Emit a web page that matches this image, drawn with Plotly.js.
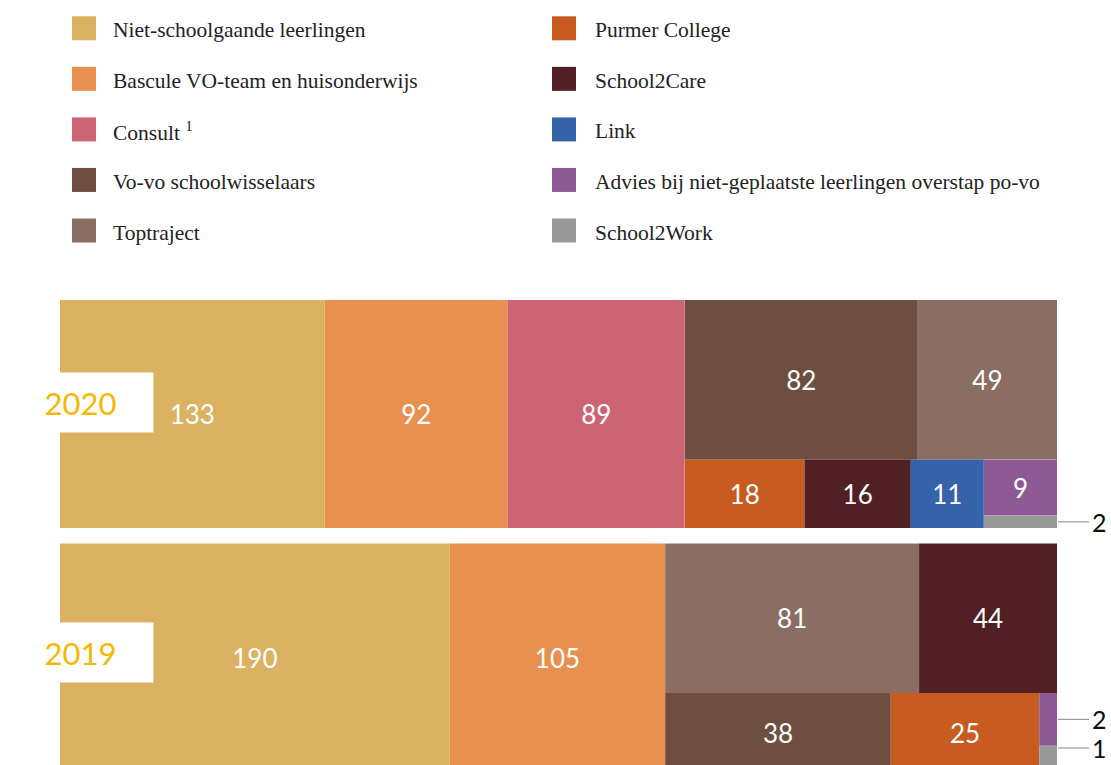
<!DOCTYPE html>
<html><head><meta charset="utf-8">
<script src="https://cdn.plot.ly/plotly-3.0.1.min.js"></script>
<style>html,body{margin:0;padding:0;overflow:hidden;background:#fff}#chart{width:1111px;height:772px}</style>
</head><body><div id="chart"></div>
<script>
// ---- data ----
const categories = ['Niet-schoolgaande leerlingen','Bascule VO-team en huisonderwijs','Consult','Vo-vo schoolwisselaars','Toptraject','Purmer College','School2Care','Link','Advies bij niet-geplaatste leerlingen overstap po-vo','School2Work'];
const legendLabels = ['Niet-schoolgaande leerlingen','Bascule VO-team en huisonderwijs','Consult <sup>1</sup>','Vo-vo schoolwisselaars','Toptraject','Purmer College','School2Care','Link','Advies bij niet-geplaatste leerlingen overstap po-vo','School2Work'];
const years = ['2020','2019'];
const values2020 = [133, 92, 89, 82, 49, 18, 16, 11, 9, 2];
const values2019 = [190, 105, 0, 38, 81, 25, 44, 0, 2, 1];
// tile arrangement (category indices, nested groups)
const tiling2020 = [0, 1, 2, [[3, 4], [5, 6, 7, [8, 9]]]];
const tiling2019 = [0, 1, [[4, 6], [3, 5, [8, 9]]]];
const colors = ['#DBB262','#E8904F','#CD6474','#6D4E40','#8A6E63','#C85B20','#502024','#3662AA','#8E5A96','#999999'];

// ---- layout helpers ----
const W = 1111, H = 772, M = {l:60, r:54, t:300, b:0};
const plotW = W - M.l - M.r, plotH = H - M.t - M.b;
const px2x = p => (p - M.l) / plotW;
const px2y = p => (H - M.b - p) / plotH;
const blocks = [{top:300, bottom:528, label:0.45}, {top:543.5, bottom:772, label:0.475}];

function sumNode(node, vals){ return Array.isArray(node) ? node.reduce((s,c)=>s+sumNode(c,vals),0) : vals[node]; }

function sliceDice(node, vals, x0, y0, x1, y1, depth, out){
  if(!Array.isArray(node)){ out[node] = {x0,y0,x1,y1}; return; }
  const total = sumNode(node, vals);
  let pos = depth % 2 === 0 ? x0 : y0;
  node.forEach(c => {
    const k = total ? sumNode(c, vals) / total : 0;
    if(depth % 2 === 0){ const w = (x1-x0)*k; sliceDice(c, vals, pos, y0, pos+w, y1, depth+1, out); pos += w; }
    else { const h = (y1-y0)*k; sliceDice(c, vals, x0, pos, x1, pos+h, depth+1, out); pos += h; }
  });
}

function buildTrace(year, vals, tiling, domainY){
  const ids=[], labels=[], parents=[], values=[], text=[], mcolors=[];
  ids.push(year); labels.push(year); parents.push(''); values.push(0); text.push(''); mcolors.push('#ffffff');
  let g = 0;
  function walk(node, parentId){
    if(Array.isArray(node)){
      const id = year + '-g' + (g++);
      ids.push(id); labels.push(' '); parents.push(parentId); values.push(0); text.push(''); mcolors.push('#ffffff');
      node.forEach(c => walk(c, id));
    } else {
      ids.push(year + '-' + node); labels.push(categories[node]); parents.push(parentId);
      values.push(vals[node]); text.push(vals[node] >= 5 ? String(vals[node]) : '');
      mcolors.push(colors[node]);
    }
  }
  tiling.forEach(c => walk(c, year));
  return {
    type:'treemap', ids, labels, parents, values, text,
    branchvalues:'remainder', sort:false,
    textinfo:'text', textposition:'middle center',
    textfont:{family:'Lato', size:26, color:'#ffffff'},
    insidetextfont:{family:'Lato', size:26, color:'#ffffff'},
    marker:{colors:mcolors, line:{width:0}, pad:{t:0,l:0,r:0,b:0}, depthfade:false},
    tiling:{packing:'slice-dice', pad:0},
    pathbar:{visible:false}, leaf:{opacity:1},
    root:{color:'#ffffff'},
    domain:{x:[0,1], y:domainY},
    hoverinfo:'label+value'
  };
}

const allVals = [values2020, values2019];
const allTiling = [tiling2020, tiling2019];
const data = years.map((y,i) => buildTrace(y, allVals[i], allTiling[i], [Math.max(0, px2y(blocks[i].bottom)), Math.min(1, px2y(blocks[i].top))]));

const shapes = [], annotations = [];

// year boxes
years.forEach((y,i) => {
  const b = blocks[i];
  annotations.push({xref:'paper', yref:'paper', x:px2x(80.5), y:px2y(b.top + b.label*(b.bottom-b.top)),
    xanchor:'center', yanchor:'middle', showarrow:false, text:y, bgcolor:'#ffffff', width:145, height:59, borderpad:0,
    font:{family:'Lato', size:31, color:'#F5B800'}});
});

// outside labels for tiny cells
years.forEach((y,i) => {
  const b = blocks[i], rects = {};
  sliceDice(allTiling[i], allVals[i], M.l, b.top, W - M.r, b.bottom, 0, rects);
  Object.keys(rects).forEach(k => {
    const v = allVals[i][k];
    if(v > 0 && v < 5){
      const r = rects[k], cy = Math.min((r.y0 + r.y1)/2, 748);
      shapes.push({type:'line', xref:'paper', yref:'paper', x0:px2x(r.x1+1), x1:px2x(1089), y0:px2y(cy), y1:px2y(cy), line:{color:'#999999', width:1.2}});
      annotations.push({xref:'paper', yref:'paper', x:px2x(1090), y:px2y(cy), xanchor:'left', yanchor:'middle', showarrow:false,
        text:String(v), font:{family:'Lato', size:25, color:'#111111'}});
    }
  });
});

// legend
categories.forEach((c,i) => {
  const col = Math.floor(i/5), row = i % 5;
  const cy = 28.3 + row*50.55;
  const sx = col === 0 ? 72 : 552, tx = col === 0 ? 111 : 593;
  shapes.push({type:'rect', xref:'paper', yref:'paper', x0:px2x(sx), x1:px2x(sx+24), y0:px2y(cy-12), y1:px2y(cy+12), fillcolor:colors[i], line:{width:0}});
  annotations.push({xref:'paper', yref:'paper', x:px2x(tx), y:px2y(cy+2), xanchor:'left', yanchor:'middle', showarrow:false,
    text:legendLabels[i], font:{family:'Liberation Serif', size:21.5, color:'#222222'}});
});

Plotly.newPlot('chart', data, {
  width:W, height:H, margin:M, paper_bgcolor:'#ffffff', plot_bgcolor:'#ffffff',
  showlegend:false, shapes, annotations
}, {displayModeBar:false, staticPlot:true});
</script></body></html>
